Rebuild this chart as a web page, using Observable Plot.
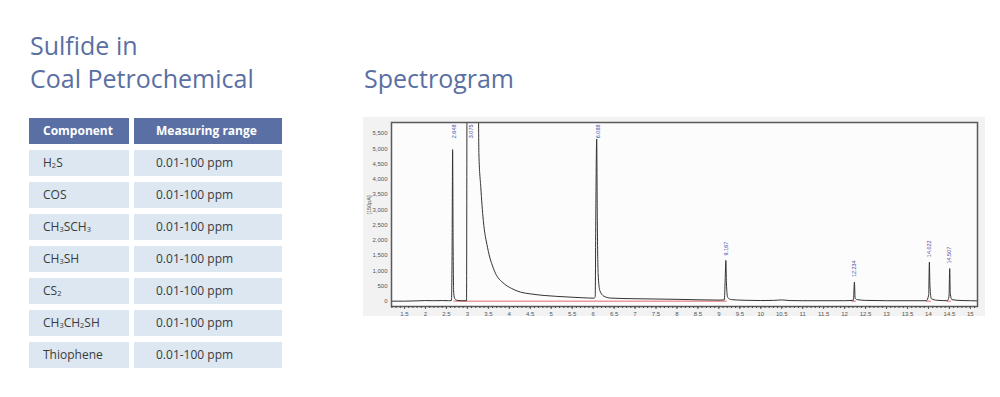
<!DOCTYPE html>
<html>
<head>
<meta charset="utf-8">
<script src="https://cdn.jsdelivr.net/npm/d3@7"></script>
<script src="https://cdn.jsdelivr.net/npm/@observablehq/plot@0.6"></script>
<style>
  html, body { margin: 0; padding: 0; background: #ffffff; }
  #page { position: relative; width: 1000px; height: 397px; overflow: hidden; font-family: "Open Sans", sans-serif; }
  .title { position: absolute; font-size: 25px; line-height: 33px; color: #5a6fa3; font-weight: 400; white-space: nowrap; }
  .cell { position: absolute; height: 26px; line-height: 26px; font-size: 12px; color: #3a3a3a; white-space: nowrap; box-sizing: border-box; }
  .hd { background: #5a70a4; color: #ffffff; font-weight: 700; }
  .rw { background: #dce7f2; }
  sub { font-size: 0.62em; vertical-align: baseline; position: relative; top: 0.15em; }
  #panel { position: absolute; left: 363px; top: 117px; width: 622px; height: 199px; background: #f2f2f2; }
  #chart { position: absolute; left: 363px; top: 117px; }
</style>
</head>
<body>
<div id="page">
  <div class="title" style="left:30px; top:29px;">Sulfide in<br>Coal Petrochemical</div>
  <div class="title" style="left:364px; top:62px;">Spectrogram</div>
  <div id="table"></div>
  <div id="panel"></div>
  <div id="chart"></div>
</div>
<script>
// ---- table data ----
const headers = ["Component", "Measuring range"];
const components = ["H<sub>2</sub>S", "COS", "CH<sub>3</sub>SCH<sub>3</sub>", "CH<sub>3</sub>SH", "CS<sub>2</sub>", "CH<sub>3</sub>CH<sub>2</sub>SH", "Thiophene"];
const ranges = ["0.01-100 ppm", "0.01-100 ppm", "0.01-100 ppm", "0.01-100 ppm", "0.01-100 ppm", "0.01-100 ppm", "0.01-100 ppm"];

// ---- chromatogram data (retention time [min], signal) ----
const times  = [1.19, 1.5, 1.8, 2.0, 2.2, 2.4, 2.55, 2.62, 2.635, 2.648, 2.66, 2.675, 2.70, 2.75, 2.85, 2.98, 2.995, 3.25, 3.275, 3.32, 3.38, 3.48, 3.64, 3.88, 4.05, 4.27, 4.5, 4.83, 5.1, 5.47, 5.75, 6.02, 6.05, 6.065, 6.085, 6.10, 6.12, 6.16, 6.25, 6.42, 7.0, 7.5, 8.0, 8.5, 9.0, 9.13, 9.15, 9.167, 9.18, 9.21, 9.3, 9.6, 10.0, 10.3, 10.5, 10.7, 11.0, 12.0, 12.21, 12.234, 12.25, 12.3, 12.5, 13.0, 13.95, 14.005, 14.022, 14.035, 14.07, 14.2, 14.45, 14.49, 14.507, 14.52, 14.56, 14.8, 15.0, 15.17];
const signal = [0, 0, 10, 20, 15, 20, 15, 20, 1500, 4970, 1800, 250, 80, 30, 15, 15, 9000, 9000, 4830, 3740, 2650, 1770, 1010, 570, 420, 295, 240, 187, 160, 131, 112, 98, 150, 3000, 5320, 2600, 900, 350, 170, 100, 80, 70, 60, 45, 35, 40, 700, 1335, 600, 120, 50, 30, 20, 25, 40, 20, 15, 15, 30, 625, 100, 50, 25, 15, 15, 200, 1280, 500, 80, 30, 15, 150, 1070, 250, 50, 20, 15, 10];

// peak labels
const topPeakTimes = [2.648, 3.075, 6.088];
const topPeakLabels = ["2.648", "3.075", "6.088"];
const peakTimes = [9.167, 12.234, 14.022, 14.507];
const peakHeights = [1335, 625, 1280, 1070];
const peakLabels = ["9.167", "12.234", "14.022", "14.507"];

// integration baseline segments (red)
const baseStart = [2.68, 12.17, 13.95, 14.45];
const baseEnd   = [9.20, 12.28, 14.07, 14.55];

// axis ticks
const xTicks = [1.5, 2, 2.5, 3, 3.5, 4, 4.5, 5, 5.5, 6, 6.5, 7, 7.5, 8, 8.5, 9, 9.5, 10, 10.5, 11, 11.5, 12, 12.5, 13, 13.5, 14, 14.5, 15];
const yTicks = [0, 500, 1000, 1500, 2000, 2500, 3000, 3500, 4000, 4500, 5000, 5500];
const yLabel = "[150pA]";

// ---- build table ----
const table = document.getElementById("table");
function cell(html, cls, left, top, width, pad) {
  const d = document.createElement("div");
  d.className = "cell " + cls;
  d.style.left = left + "px"; d.style.top = top + "px"; d.style.width = width + "px";
  d.style.paddingLeft = pad + "px";
  d.innerHTML = html;
  table.appendChild(d);
}
cell(headers[0], "hd", 29, 118, 100, 14);
cell(headers[1], "hd", 134, 118, 148, 22);
components.forEach((c, i) => {
  cell(c, "rw", 29, 150 + i * 32, 100, 14);
  cell(ranges[i], "rw", 134, 150 + i * 32, 148, 22);
});

// ---- chart ----
const points = times.map((t, i) => ({t, v: signal[i]}));
const peaks = peakTimes.map((t, i) => ({t, h: peakHeights[i], label: peakLabels[i]}));
const topPeaks = topPeakTimes.map((t, i) => ({t, label: topPeakLabels[i]}));
const segs = baseStart.map((s, i) => ({s, e: baseEnd[i]}));
const minorTicks = d3.range(12, 152).map(d => d / 10);

const chart = Plot.plot({
  width: 622,
  height: 205,
  marginLeft: 28,
  marginRight: 8,
  marginTop: 5,
  marginBottom: 16,
  style: {background: "transparent", fontFamily: "Arial, 'Liberation Sans', sans-serif", overflow: "visible"},
  x: {domain: [1.19, 15.17]},
  y: {domain: [-175, 5860]},
  marks: [
    Plot.frame({fill: "#fcfcfc", stroke: "none"}),
    Plot.ruleY(segs, {y: 0, x1: "s", x2: "e", stroke: "#e06a6a", strokeWidth: 1}),
    Plot.line(points, {x: "t", y: "v", stroke: "#333333", strokeWidth: 1, curve: "monotone-x", clip: true}),
    Plot.text(peaks, {x: "t", y: "h", text: "label", rotate: -90, textAnchor: "start", dy: -5, fontSize: 5.5, fill: "#4a4aa8"}),
    Plot.text(topPeaks, {x: "t", frameAnchor: "top", text: "label", rotate: -90, textAnchor: "end", dy: 2, dx: -1, fontSize: 5.5, fill: "#4a4aa8"}),
    Plot.frame({stroke: "#5a5a5a", strokeWidth: 1.5}),
    Plot.axisY({ticks: yTicks, tickFormat: d3.format(","), tickSize: 0, tickPadding: 4, fontSize: 6, color: "#555", label: null}),
    Plot.text([yLabel], {frameAnchor: "left", text: d => d, rotate: -90, dx: -22, dy: 0, fontSize: 5.5, fill: "#555"}),
    Plot.axisX({ticks: minorTicks, tickSize: 2, text: null, stroke: "#444", label: null}),
    Plot.axisX({ticks: xTicks, tickFormat: d => String(d), tickSize: 3, tickPadding: 2, fontSize: 6, color: "#555", label: null})
  ]
});
document.getElementById("chart").appendChild(chart);
</script>
</body>
</html>
